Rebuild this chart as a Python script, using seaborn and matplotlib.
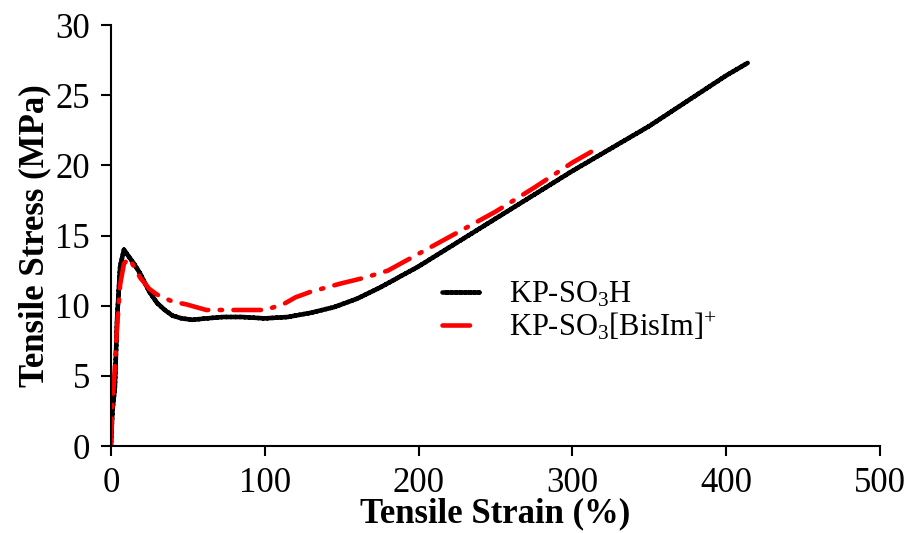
"""
Tensile stress-strain curves for KP-SO3H and KP-SO3[BisIm]+ membranes
"""

import numpy as np
import pandas as pd
import matplotlib
matplotlib.use("Agg")
import matplotlib.pyplot as plt
import seaborn as sns

# KP-SO3H (black curve), strain in %, stress in MPa
strain_h = [0, 1, 2.6, 4, 6, 8.5, 11, 15, 19, 25, 30, 35, 40, 46, 53, 62, 73, 85,
            100, 115, 130, 145, 160, 175, 190, 200, 225, 250, 275, 300, 325, 350,
            375, 400, 414]
stress_h = [0, 2.5, 4.2, 9.0, 12.8, 14.0, 13.6, 13.0, 12.3, 11.0, 10.2, 9.7, 9.3,
            9.1, 9.0, 9.1, 9.2, 9.2, 9.1, 9.2, 9.5, 9.9, 10.5, 11.3, 12.2, 12.8,
            14.5, 16.2, 17.9, 19.6, 21.2, 22.8, 24.6, 26.4, 27.3]

# KP-SO3[BisIm]+ (red dash-dot curve)
strain_b = [0, 1, 2.5, 4, 6, 8.5, 11.7, 15, 19, 25, 30, 40, 49, 62, 75, 88, 100,
            112, 120, 130, 150, 165, 180, 200, 225, 250, 275, 300, 316]
stress_b = [0, 3.0, 5.5, 8.5, 11.5, 13.0, 13.4, 12.8, 12.0, 11.2, 10.8, 10.3,
            10.1, 9.7, 9.7, 9.7, 9.7, 10.1, 10.6, 11.0, 11.6, 12.0, 12.5, 13.7,
            15.2, 16.7, 18.4, 20.2, 21.2]

labels = ["KP-SO$_3$H", "KP-SO$_3$[BisIm]$^{+}$"]
colors = ["black", "red"]


def main():
    df = pd.concat([
        pd.DataFrame({"strain": strain_h, "stress": stress_h, "sample": labels[0]}),
        pd.DataFrame({"strain": strain_b, "stress": stress_b, "sample": labels[1]}),
    ])

    sns.set_style("ticks", {"axes.edgecolor": "black", "text.color": "black",
                            "xtick.color": "black", "ytick.color": "black",
                            "axes.labelcolor": "black"})
    plt.rcParams["font.family"] = ["Liberation Serif", "DejaVu Serif"]
    plt.rcParams["mathtext.fontset"] = "custom"
    plt.rcParams["mathtext.rm"] = "Liberation Serif"
    plt.rcParams["mathtext.it"] = "Liberation Serif:italic"
    plt.rcParams["mathtext.bf"] = "Liberation Serif:bold"

    fig = plt.figure(figsize=(9.09, 5.33), dpi=100)
    ax = fig.add_axes([0.122, 0.163, 0.846, 0.79])

    sns.lineplot(data=df, x="strain", y="stress", hue="sample", style="sample",
                 palette=colors, dashes=[(1, 0), (6, 2.5, 0.5, 2.5)],
                 linewidth=3.3, sort=False, estimator=None, ax=ax)
    for line in ax.get_lines():
        line.set_dash_capstyle("round")
        line.set_solid_capstyle("round")

    ax.set_xlim(0, 500)
    ax.set_ylim(0, 30)
    ax.set_xticks(range(0, 501, 100))
    ax.set_yticks(range(0, 31, 5))
    ax.tick_params(labelsize=25, width=1.5, length=7, direction="out")
    ax.tick_params(axis="x", pad=8)
    ax.tick_params(axis="y", pad=8)
    for s in ["left", "bottom"]:
        ax.spines[s].set_linewidth(1.5)
    sns.despine(ax=ax)

    ax.set_xlabel("Tensile Strain (%)", fontsize=25, fontweight="bold", labelpad=-2)
    ax.set_ylabel("Tensile Stress (MPa)", fontsize=25, fontweight="bold", labelpad=3)

    ax.legend(loc="upper left", bbox_to_anchor=(0.395, 0.46), frameon=False,
              fontsize=22, handlelength=1.2, handletextpad=1.0, labelspacing=0.05)

    fig.savefig("out.png", dpi=100)


if __name__ == "__main__":
    main()
